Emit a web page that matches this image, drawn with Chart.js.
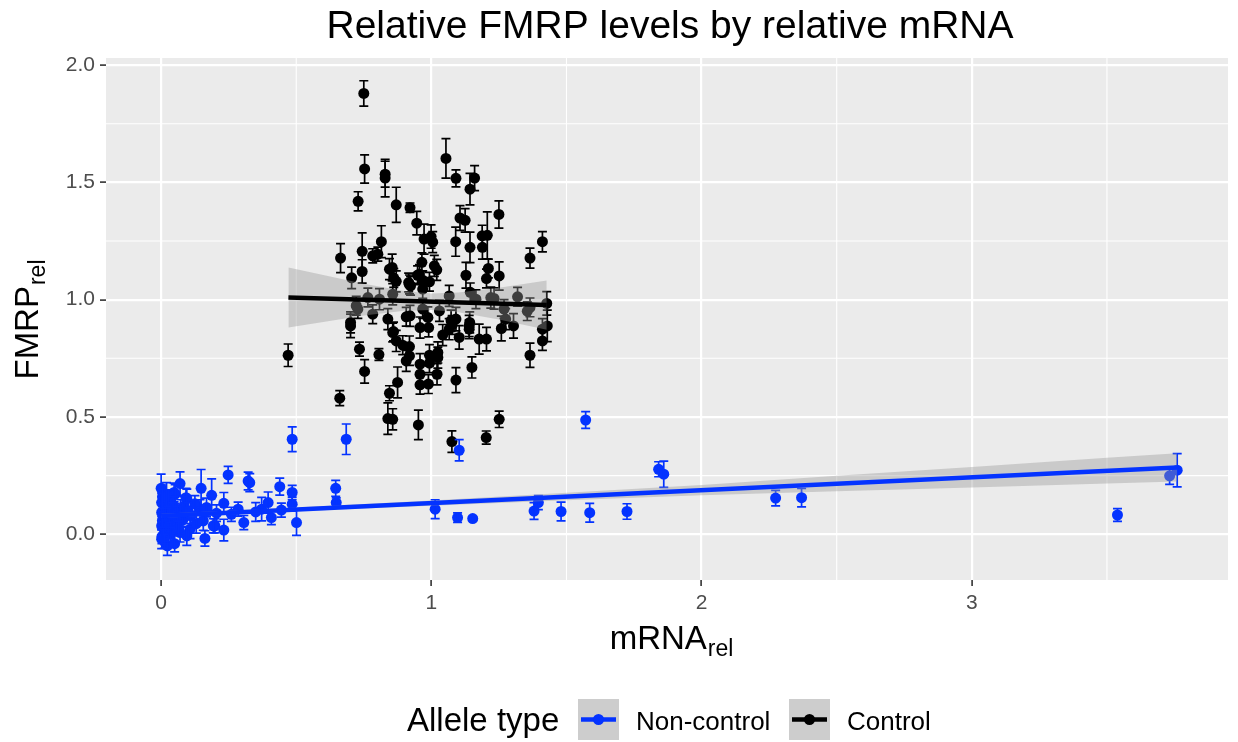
<!DOCTYPE html>
<html>
<head>
<meta charset="utf-8">
<title>Relative FMRP levels by relative mRNA</title>
<script src="https://cdn.jsdelivr.net/npm/chart.js@4.4.1/dist/chart.umd.min.js"></script>
<style>
  html, body { margin: 0; padding: 0; background: #ffffff; }
  #wrap { width: 1238px; height: 742px; }
</style>
</head>
<body>
<div id="wrap"><canvas id="grafico" width="1238" height="742"></canvas></div>
<script>
// Control alleles: relative mRNA, relative FMRP and half-width of the error bar
const ctrlX = [
  0.750, 1.054, 1.091, 1.160, 1.143, 0.753, 0.829, 0.829, 0.729, 0.870,
  0.921, 0.946, 1.250, 1.106, 1.125, 0.973, 0.999, 1.005, 0.815, 1.090,
  1.188, 1.207, 1.143, 1.189, 1.411, 1.365, 0.664, 0.744, 0.783, 0.802,
  0.845, 0.855, 0.744, 0.705, 0.861, 0.870, 0.916, 0.949, 0.965, 1.011,
  1.020, 0.968, 0.993, 1.128, 1.211, 1.204, 1.251, 1.144, 1.066, 1.319,
  1.232, 1.165, 0.470, 0.661, 0.734, 0.753, 0.806, 0.845, 0.875, 0.839,
  0.857, 0.952, 1.076, 1.203, 1.251, 1.091, 1.150, 1.365, 1.411, 1.411,
  1.429, 1.427, 1.259, 1.304, 1.365, 1.177, 1.204, 1.140, 1.103, 1.091,
  1.066, 1.042, 1.024, 1.024, 1.021, 0.989, 0.958, 0.958, 0.958, 0.993,
  0.993, 0.907, 0.919, 0.919, 0.894, 0.870, 0.857, 0.839, 0.907, 0.921,
  0.958, 0.990, 0.987, 0.783, 0.728, 0.701, 0.701, 0.923, 0.968, 0.956,
  1.220, 1.269, 1.030, 0.968, 0.808, 0.857, 0.765, 1.073, 1.140, 0.722,
  0.860, 1.142, 1.077, 1.275, 1.355, 0.919
];
const ctrlY = [
  1.879, 1.602, 1.517, 1.518, 1.471, 1.557, 1.535, 1.518, 1.419, 1.404,
  1.392, 1.326, 1.363, 1.348, 1.338, 1.258, 1.269, 1.245, 1.247, 1.247,
  1.272, 1.274, 1.223, 1.223, 1.247, 1.177, 1.177, 1.206, 1.187, 1.194,
  1.130, 1.137, 1.120, 1.093, 1.092, 1.078, 1.073, 1.104, 1.159, 1.144,
  1.127, 1.083, 1.076, 1.104, 1.133, 1.090, 1.101, 1.031, 1.016, 1.012,
  1.005, 1.002, 0.763, 0.580, 0.789, 0.694, 0.766, 0.601, 0.647, 0.493,
  0.490, 0.466, 0.395, 0.412, 0.490, 0.657, 0.711, 0.763, 0.824, 0.874,
  0.888, 0.984, 0.877, 0.888, 0.967, 0.832, 0.832, 0.888, 0.839, 0.917,
  0.874, 0.849, 0.775, 0.753, 0.682, 0.640, 0.637, 0.682, 0.725, 0.763,
  0.729, 0.739, 0.760, 0.800, 0.806, 0.824, 0.860, 0.917, 0.927, 0.931,
  0.881, 0.881, 0.924, 0.938, 0.960, 0.888, 0.903, 1.059, 1.045, 1.109,
  1.009, 0.960, 0.952, 0.960, 1.002, 1.023, 1.009, 0.910, 0.874, 0.974,
  0.864, 0.903, 0.892, 0.917, 0.951, 1.065
];
const ctrlErr = [
  0.054, 0.084, 0.036, 0.053, 0.067, 0.060, 0.055, 0.080, 0.041, 0.075,
  0.020, 0.050, 0.058, 0.053, 0.050, 0.064, 0.050, 0.045, 0.068, 0.062,
  0.045, 0.100, 0.065, 0.050, 0.043, 0.043, 0.062, 0.079, 0.030, 0.030,
  0.045, 0.057, 0.050, 0.046, 0.040, 0.045, 0.040, 0.040, 0.040, 0.045,
  0.045, 0.040, 0.040, 0.055, 0.040, 0.040, 0.060, 0.040, 0.045, 0.040,
  0.045, 0.040, 0.048, 0.032, 0.030, 0.050, 0.025, 0.032, 0.066, 0.067,
  0.045, 0.063, 0.046, 0.028, 0.035, 0.053, 0.045, 0.052, 0.040, 0.045,
  0.067, 0.050, 0.053, 0.052, 0.040, 0.064, 0.050, 0.045, 0.050, 0.050,
  0.045, 0.045, 0.045, 0.045, 0.045, 0.040, 0.040, 0.045, 0.045, 0.045,
  0.040, 0.045, 0.040, 0.045, 0.040, 0.045, 0.040, 0.045, 0.040, 0.045,
  0.045, 0.040, 0.045, 0.040, 0.040, 0.050, 0.045, 0.040, 0.040, 0.040,
  0.045, 0.040, 0.045, 0.040, 0.045, 0.045, 0.040, 0.045, 0.040, 0.040,
  0.040, 0.045, 0.040, 0.045, 0.040, 0.040
];

// Non-control alleles
const mutX = [
  0.485, 0.685, 1.103, 0.248, 0.328, 0.322, 0.439, 0.485, 0.485, 0.501,
  0.646, 0.648, 1.014, 1.097, 1.153, 1.380, 1.396, 0.000, 0.070, 0.148,
  0.187, 0.232, 0.285, 0.306, 0.232, 0.162, 0.023, 0.372, 0.396, 0.408,
  0.445, 0.092, 0.052, 0.199, 1.571, 1.480, 1.586, 1.724, 1.841, 1.860,
  2.274, 2.370, 3.539, 3.732, 3.760, 0.048, 0.095, 0.072, 0.144, 0.168,
  0.156, 0.193, 0.107, 0.095, 0.002, 0.002, 0.002, 0.002, 0.027, 0.046,
  0.058, 0.070, 0.027, 0.010, 0.005, 0.015, 0.030, 0.040, 0.012, 0.035,
  0.060, 0.080, 0.020, 0.110, 0.125, 0.130, 0.005, 0.050, 0.085, 0.003,
  0.018, 0.065, 0.100, 0.040, 0.205, 0.260, 0.350
];
const mutY = [
  0.405, 0.405, 0.358, 0.253, 0.220, 0.227, 0.203, 0.178, 0.128, 0.050,
  0.196, 0.135, 0.107, 0.071, 0.067, 0.099, 0.135, 0.196, 0.216, 0.196,
  0.166, 0.132, 0.107, 0.050, 0.018, -0.018, -0.050, 0.107, 0.135, 0.071,
  0.103, 0.156, 0.171, 0.036, 0.487, 0.097, 0.092, 0.097, 0.277, 0.256,
  0.154, 0.156, 0.082, 0.249, 0.273, 0.178, 0.152, 0.107, 0.107, 0.114,
  0.057, 0.036, 0.021, -0.007, -0.021, 0.036, 0.093, 0.135, 0.149, 0.121,
  0.057, 0.007, 0.021, 0.000, 0.060, 0.110, 0.080, 0.040, -0.030, 0.000,
  0.090, 0.060, 0.170, 0.080, 0.130, 0.045, 0.160, -0.040, 0.120, -0.010,
  0.050, 0.025, 0.100, 0.100, 0.090, 0.085, 0.095
];
const mutErr = [
  0.053, 0.065, 0.045, 0.036, 0.038, 0.038, 0.036, 0.030, 0.030, 0.055,
  0.034, 0.020, 0.040, 0.020, 0.008, 0.036, 0.030, 0.060, 0.050, 0.080,
  0.070, 0.046, 0.030, 0.030, 0.046, 0.033, 0.040, 0.050, 0.045, 0.030,
  0.030, 0.040, 0.040, 0.030, 0.036, 0.040, 0.040, 0.033, 0.032, 0.056,
  0.033, 0.039, 0.027, 0.036, 0.071, 0.040, 0.040, 0.040, 0.040, 0.040,
  0.040, 0.030, 0.040, 0.040, 0.040, 0.040, 0.040, 0.040, 0.040, 0.040,
  0.040, 0.040, 0.040, 0.030, 0.030, 0.030, 0.030, 0.030, 0.030, 0.030,
  0.030, 0.030, 0.050, 0.035, 0.035, 0.040, 0.050, 0.035, 0.040, 0.030,
  0.030, 0.030, 0.035, 0.035, 0.035, 0.030, 0.040
];

// linear fits and their confidence bands
const ctrlFitX = [0.471, 1.427];
const ctrlFitY = [1.009, 0.977];
const ctrlBandX = [0.471, 0.6, 0.75, 0.9, 1.0, 1.1, 1.25, 1.427];
const ctrlBandHi = [1.137, 1.105, 1.068, 1.037, 1.026, 1.030, 1.051, 1.082];
const ctrlBandLo = [0.881, 0.905, 0.932, 0.953, 0.956, 0.946, 0.915, 0.872];

const mutFitX = [0, 3.76];
const mutFitY = [0.078, 0.285];
const mutBandX = [0, 0.5, 1, 1.5, 2, 2.5, 3, 3.5, 3.76];
const mutBandHi = [0.087, 0.114, 0.144, 0.177, 0.210, 0.249, 0.287, 0.326, 0.345];
const mutBandLo = [0.069, 0.098, 0.122, 0.145, 0.166, 0.183, 0.199, 0.216, 0.225];

const xTicks = [0, 1, 2, 3];
const yTicks = [0, 0.5, 1, 1.5, 2];
const xMinor = [0.5, 1.5, 2.5, 3.5];
const yMinor = [0.25, 0.75, 1.25, 1.75];

const AZUL = "#0433FF";
const PRETO = "#000000";
const FAIXA = "rgba(153,153,153,0.4)";
const FONTE = "'Liberation Sans', Arial, Helvetica, sans-serif";

const pts = (xs, ys) => xs.map((x, i) => ({ x: x, y: ys[i] }));

// error bars are drawn right after the points of their own dataset
const barrasErro = {
  id: "barrasErro",
  afterDatasetDraw(chart, args) {
    const ds = chart.data.datasets[args.index];
    if (!ds.erros) return;
    const { ctx, scales } = chart;
    const sx = scales.x, sy = scales.y;
    ctx.save();
    ctx.strokeStyle = ds.backgroundColor;
    ctx.lineWidth = 1.7;
    ds.data.forEach((p, i) => {
      const px = sx.getPixelForValue(p.x);
      const y1 = sy.getPixelForValue(p.y - ds.erros[i]);
      const y2 = sy.getPixelForValue(p.y + ds.erros[i]);
      ctx.beginPath();
      ctx.moveTo(px, y1); ctx.lineTo(px, y2);
      ctx.moveTo(px - 4.5, y1); ctx.lineTo(px + 4.5, y1);
      ctx.moveTo(px - 4.5, y2); ctx.lineTo(px + 4.5, y2);
      ctx.stroke();
    });
    ctx.restore();
  }
};

// grey panel and thin minor grid lines
const painel = {
  id: "painel",
  beforeDraw(chart) {
    const { ctx, chartArea: a, scales } = chart;
    ctx.save();
    ctx.fillStyle = "#EBEBEB";
    ctx.fillRect(a.left, a.top, a.right - a.left, a.bottom - a.top);
    ctx.strokeStyle = "#FFFFFF";
    ctx.lineWidth = 1.1;
    xMinor.forEach(v => {
      const px = scales.x.getPixelForValue(v);
      ctx.beginPath(); ctx.moveTo(px, a.top); ctx.lineTo(px, a.bottom); ctx.stroke();
    });
    yMinor.forEach(v => {
      const py = scales.y.getPixelForValue(v);
      ctx.beginPath(); ctx.moveTo(a.left, py); ctx.lineTo(a.right, py); ctx.stroke();
    });
    ctx.restore();
  }
};

function textoSub(ctx, base, sub, cx, y, size) {
  ctx.font = size + "px " + FONTE;
  const w1 = ctx.measureText(base).width;
  ctx.font = Math.round(size * 0.7) + "px " + FONTE;
  const w2 = ctx.measureText(sub).width;
  const x0 = cx - (w1 + w2) / 2;
  ctx.textAlign = "left";
  ctx.textBaseline = "alphabetic";
  ctx.font = size + "px " + FONTE;
  ctx.fillText(base, x0, y);
  ctx.font = Math.round(size * 0.7) + "px " + FONTE;
  ctx.fillText(sub, x0 + w1 + 1, y + 7);
}

function chave(ctx, x, y, cor) {
  ctx.fillStyle = "#CDCDCD";
  ctx.fillRect(x, y, 41, 41);
  ctx.strokeStyle = cor;
  ctx.lineWidth = 4.5;
  ctx.beginPath(); ctx.moveTo(x + 3, y + 20.5); ctx.lineTo(x + 38, y + 20.5); ctx.stroke();
  ctx.fillStyle = cor;
  ctx.beginPath(); ctx.arc(x + 20.5, y + 20.5, 5.5, 0, Math.PI * 2); ctx.fill();
}

// title, axis titles and legend
const textos = {
  id: "textos",
  afterDraw(chart) {
    const ctx = chart.ctx;
    ctx.save();
    ctx.fillStyle = "#000000";
    ctx.font = "39px " + FONTE;
    ctx.textAlign = "center";
    ctx.textBaseline = "alphabetic";
    ctx.fillText("Relative FMRP levels by relative mRNA", 670, 38);

    textoSub(ctx, "mRNA", "rel", 671, 649, 33);

    ctx.save();
    ctx.translate(38, 320);
    ctx.rotate(-Math.PI / 2);
    ctx.fillStyle = "#000000";
    textoSub(ctx, "FMRP", "rel", 0, 0, 33);
    ctx.restore();

    ctx.fillStyle = "#000000";
    ctx.textAlign = "left";
    ctx.font = "33px " + FONTE;
    ctx.fillText("Allele type", 407, 731);
    chave(ctx, 578, 699, AZUL);
    ctx.fillStyle = "#000000";
    ctx.font = "26px " + FONTE;
    ctx.textAlign = "left";
    ctx.fillText("Non-control", 636, 730);
    chave(ctx, 789, 699, PRETO);
    ctx.fillStyle = "#000000";
    ctx.font = "26px " + FONTE;
    ctx.textAlign = "left";
    ctx.fillText("Control", 847, 730);
    ctx.restore();
  }
};

const eixoTicks = (valores) => (scale) => {
  scale.ticks = valores.map(v => ({ value: v }));
};

new Chart(document.getElementById("grafico"), {
  type: "scatter",
  data: {
    datasets: [
      {
        type: "line",
        data: pts(mutFitX, mutFitY),
        borderColor: AZUL,
        borderWidth: 4.5,
        pointRadius: 0,
        fill: false,
        order: 0
      },
      {
        type: "line",
        data: pts(ctrlFitX, ctrlFitY),
        borderColor: PRETO,
        borderWidth: 4.5,
        pointRadius: 0,
        fill: false,
        order: 0
      },
      {
        type: "line",
        data: pts(mutBandX, mutBandHi),
        borderColor: "transparent",
        borderWidth: 0,
        pointRadius: 0,
        backgroundColor: FAIXA,
        fill: "+1",
        order: 1
      },
      {
        type: "line",
        data: pts(mutBandX, mutBandLo),
        borderColor: "transparent",
        borderWidth: 0,
        pointRadius: 0,
        fill: false,
        order: 1
      },
      {
        type: "line",
        data: pts(ctrlBandX, ctrlBandHi),
        borderColor: "transparent",
        borderWidth: 0,
        pointRadius: 0,
        backgroundColor: FAIXA,
        fill: "+1",
        order: 1
      },
      {
        type: "line",
        data: pts(ctrlBandX, ctrlBandLo),
        borderColor: "transparent",
        borderWidth: 0,
        pointRadius: 0,
        fill: false,
        order: 1
      },
      {
        label: "Non-control",
        data: pts(mutX, mutY),
        erros: mutErr,
        backgroundColor: AZUL,
        borderWidth: 0,
        pointRadius: 5.5,
        order: 2
      },
      {
        label: "Control",
        data: pts(ctrlX, ctrlY),
        erros: ctrlErr,
        backgroundColor: PRETO,
        borderWidth: 0,
        pointRadius: 5.5,
        order: 3
      }
    ]
  },
  options: {
    responsive: false,
    animation: false,
    devicePixelRatio: 1,
    layout: { padding: { top: 58, right: 10, left: 0, bottom: 0 } },
    plugins: {
      legend: { display: false },
      title: { display: false },
      tooltip: { enabled: false }
    },
    scales: {
      x: {
        type: "linear",
        min: -0.204,
        max: 3.948,
        afterBuildTicks: eixoTicks(xTicks),
        afterFit(scale) { scale.height = 162; },
        border: { display: false },
        grid: { color: "#FFFFFF", lineWidth: 2.2, tickLength: 6, tickColor: "#333333", tickWidth: 1.6 },
        ticks: {
          autoSkip: false,
          maxRotation: 0,
          padding: 5,
          color: "#4D4D4D",
          font: { family: FONTE, size: 21 },
          callback: (v) => String(v)
        }
      },
      y: {
        type: "linear",
        min: -0.195,
        max: 2.030,
        afterBuildTicks: eixoTicks(yTicks),
        afterFit(scale) { scale.width = 106; },
        border: { display: false },
        grid: { color: "#FFFFFF", lineWidth: 2.2, tickLength: 6, tickColor: "#333333", tickWidth: 1.6 },
        ticks: {
          autoSkip: false,
          padding: 5,
          color: "#4D4D4D",
          font: { family: FONTE, size: 21 },
          callback: (v) => v.toFixed(1)
        }
      }
    }
  },
  plugins: [painel, barrasErro, textos]
});
</script>
</body>
</html>
